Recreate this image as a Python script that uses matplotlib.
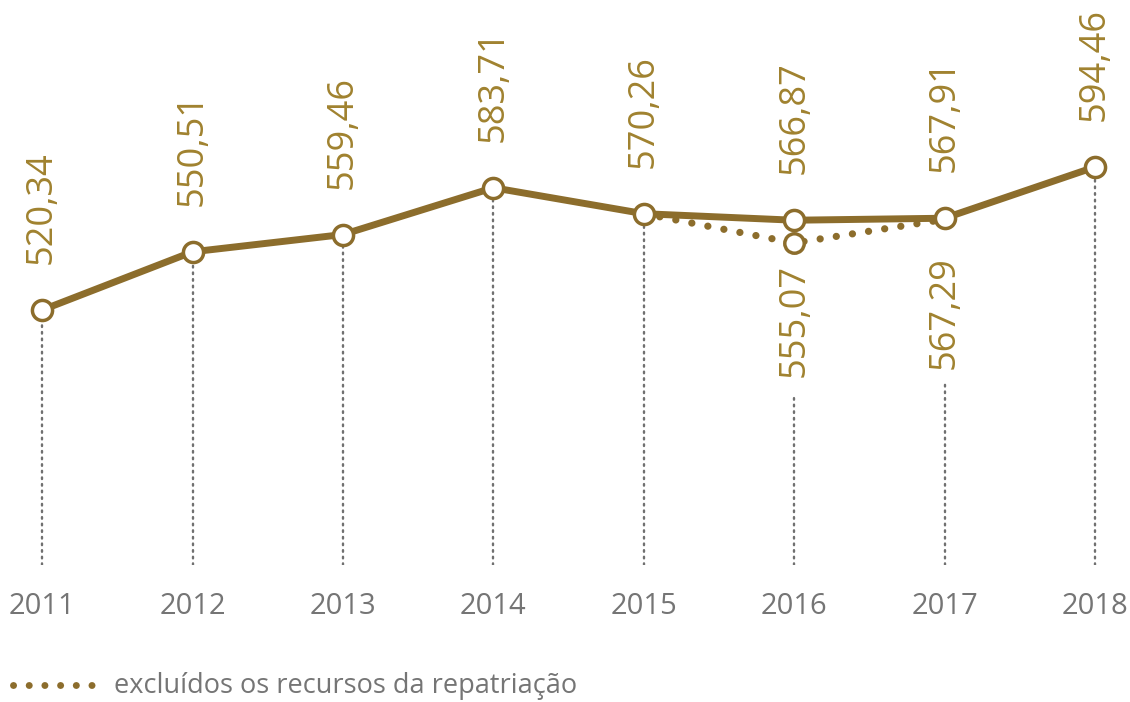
import matplotlib
matplotlib.use("Agg")
import matplotlib.pyplot as plt
from matplotlib.lines import Line2D

years = [2011, 2012, 2013, 2014, 2015, 2016, 2017, 2018]
values = [520.34, 550.51, 559.46, 583.71, 570.26, 566.87, 567.91, 594.46]
labels = ["520,34", "550,51", "559,46", "583,71", "570,26", "566,87", "567,91", "594,46"]

excl_years = [2015, 2016, 2017]
excl_values = [570.26, 555.07, 567.29]
excl_label_years = [2016, 2017]
excl_label_values = [555.07, 567.29]
excl_labels = ["555,07", "567,29"]
legend_text = "excluídos os recursos da repatriação"

GOLD = "#8C6D2C"
LABEL = "#A0822F"
GRAY = "#707070"
TICK = "#757575"

fig = plt.figure(figsize=(11.3, 7.02), dpi=100)
ax = fig.add_axes([0, (702 - 565) / 702, 1, 565 / 702])
ax.set_xlim(2010.72, 2018.233)
ax.set_ylim(388.2, 681.0)
ax.axis("off")

ymin = 388.2
px = (681.0 - 388.2) / 565.0  # data units per pixel

# vertical gray dotted guide lines
for x, v in zip(years, values):
    if x in excl_label_years:
        continue
    ax.plot([x, x], [ymin, v], color=GRAY, lw=1.7, ls=(0, (0.7, 2.1)),
            dash_capstyle="round", zorder=1)
breaks = {2016: 398, 2017: 383}
for x in excl_label_years:
    ytop = 681.0 - breaks[x] * px
    ax.plot([x, x], [ymin, ytop], color=GRAY, lw=1.7, ls=(0, (0.7, 2.1)),
            dash_capstyle="round", zorder=1)

# dotted series (excluding repatriation)
ax.plot(excl_years, excl_values, color=GOLD, lw=5.2, ls=(0, (0.01, 2.25)),
        dash_capstyle="round", zorder=2)
ax.plot([excl_years[1]], [excl_values[1]], marker="o", ms=14, mfc="white",
        mec=GOLD, mew=2.5, ls="none", zorder=3)

# main series
ax.plot(years, values, color=GOLD, lw=5.0, marker="o", ms=14.5, mfc="white",
        mec=GOLD, mew=2.5, solid_capstyle="round", zorder=4)

lab_font = dict(family=["Open Sans", "DejaVu Sans"], fontsize=26, color=LABEL)
for x, v, t in zip(years, values, labels):
    ax.annotate(t, (x, v), xytext=(0, 33), textcoords="offset points",
                rotation=90, ha="center", va="bottom", **lab_font)

lower_tops = {2016: 264, 2017: 256}
for x, v, t in zip(excl_label_years, excl_label_values, excl_labels):
    ytop = 681.0 - lower_tops[x] * px
    ax.text(x, ytop, t, rotation=90, ha="center", va="top", **lab_font)

tick_font = dict(family=["Liberation Sans Narrow", "Open Sans", "DejaVu Sans"],
                 fontsize=21, color=TICK)
for x in years:
    ax.text(x, ymin - 41 * px, str(x), ha="center", va="center", **tick_font)

# legend
fig.add_artist(Line2D([13 / 1130, 98 / 1130], [1 - 685 / 702, 1 - 685 / 702],
                      color=GOLD, lw=5.0, ls=(0, (0.01, 2.25)),
                      dash_capstyle="round"))
fig.text(114 / 1130, 1 - 686 / 702, legend_text, ha="left", va="center",
         family=["Liberation Sans Narrow", "Open Sans", "DejaVu Sans"],
         fontsize=19.5, color=TICK)

fig.savefig("out.png", dpi=100)
